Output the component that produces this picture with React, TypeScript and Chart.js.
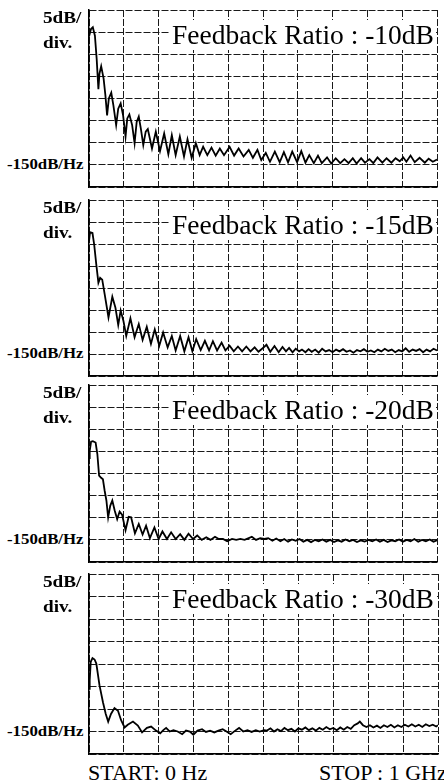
import React, { useEffect, useRef } from "react";
import { Chart, registerables } from "chart.js";

Chart.register(...registerables);

// ---------- data (frequency in MHz, level in dB) ----------
const X_MIN = 0;
const X_MAX = 1000;
const X_STEP = 100;
const Y_MIN = -155;
const Y_MAX = -115;
const Y_STEP = 5;

const titles = [
  "Feedback Ratio : -10dB",
  "Feedback Ratio : -15dB",
  "Feedback Ratio : -20dB",
  "Feedback Ratio : -30dB",
];
const scaleLabelTop = "5dB/";
const scaleLabelBottom = "div.";
const refLevelLabel = "-150dB/Hz";
const startLabel = "START: 0 Hz";
const stopLabel = "STOP : 1 GHz";

const freq1 = [
  0, 5.7, 11, 17, 22, 27, 30, 35, 42, 47, 52, 57, 64, 70, 78, 84, 91, 98, 105, 110,
  116, 124, 131, 137, 143, 149, 156, 163, 169, 181, 192, 204, 216, 228, 238, 249, 261, 273, 283, 295,
  307, 318, 328, 340, 352, 364, 376, 388, 404, 417, 430, 444, 459, 471, 484, 495, 508, 520, 534, 548,
  560, 572, 584, 598, 610, 622, 633, 646, 658, 669, 684, 696, 709, 722, 734, 746, 758, 769, 782, 793,
  806, 817, 829, 843, 855, 869, 881, 893, 903, 912, 924, 936, 950, 965, 976, 988, 1000,
];
const level1 = [
  -121.0, -119.3, -118.9, -120.8, -126.0, -132.9, -129.4, -127.7, -130.5, -134.2, -138.8, -135.0, -133.7, -136.5, -141.0, -137.3, -136.1, -138.8, -143.6, -139.5,
  -138.6, -141.0, -145.1, -140.3, -139.1, -141.8, -145.5, -142.5, -141.9, -146.3, -142.5, -146.9, -142.9, -147.6, -143.3, -147.8, -143.6, -148.1, -144.2, -148.4,
  -145.1, -147.8, -145.9, -147.8, -146.1, -147.9, -146.3, -147.8, -145.9, -147.9, -146.3, -148.1, -146.6, -148.4, -146.6, -148.9, -147.3, -149.3, -147.0, -149.4,
  -147.1, -149.4, -147.0, -149.4, -146.9, -149.5, -147.8, -149.6, -147.9, -149.6, -148.3, -149.7, -148.5, -149.6, -148.7, -149.6, -148.5, -149.7, -148.5, -149.5,
  -148.7, -149.6, -148.3, -149.5, -148.5, -149.5, -148.5, -149.2, -148.3, -149.3, -147.9, -149.4, -148.4, -149.5, -148.6, -149.3, -148.8,
];

const freq2 = [
  0, 3, 10, 15, 21, 27, 32, 38, 45, 56, 67, 76, 84, 91, 99, 107, 119, 131, 143, 154,
  166, 178, 189, 202, 213, 226, 238, 249, 262, 274, 286, 297, 308, 321, 333, 345, 356, 368, 381, 392,
  404, 416, 428, 440, 452, 464, 476, 487, 499, 510, 521, 533, 545, 556, 566, 575, 585, 594, 604, 612,
  622, 631, 640, 650, 660, 670, 680, 690, 700, 710, 720, 730, 740, 750, 760, 770, 780, 790, 800, 810,
  820, 830, 840, 850, 860, 870, 880, 890, 900, 910, 920, 930, 940, 950, 960, 970, 980, 990, 1000,
];
const level2 = [
  -124.4, -122.3, -122.5, -125.2, -129.7, -133.8, -132.7, -133.1, -136.4, -141.7, -137.0, -139.5, -143.4, -140.1, -142.5, -145.9, -141.9, -146.2, -143.2, -146.8,
  -143.8, -147.7, -144.4, -148.1, -145.1, -148.5, -145.9, -149.2, -145.9, -149.4, -146.2, -149.4, -146.6, -149.1, -147.0, -149.2, -147.1, -149.2, -147.4, -149.2,
  -148.1, -149.4, -148.3, -149.4, -148.3, -149.4, -148.5, -149.5, -148.7, -147.9, -149.5, -148.2, -149.6, -148.4, -149.4, -148.6, -149.6, -148.8, -149.4, -149.0,
  -149.6, -148.9, -149.5, -149.0, -149.7, -148.8, -149.4, -149.1, -149.6, -149.0, -149.4, -148.9, -149.5, -149.2, -149.7, -149.1, -149.4, -148.9, -149.5, -149.2,
  -149.6, -149.0, -149.4, -148.8, -149.3, -149.0, -149.6, -149.1, -149.4, -148.7, -149.5, -149.0, -149.3, -148.9, -149.6, -149.0, -149.4, -148.8, -149.2,
];

const freq3 = [
  0, 2, 6, 11, 19, 24, 29, 34, 40, 45, 50, 55, 61, 67, 74, 81, 88, 95, 105, 114,
  121, 132, 143, 154, 164, 175, 188, 200, 211, 224, 236, 249, 262, 274, 286, 299, 311, 324, 337, 349,
  362, 373, 385, 397, 411, 423, 435, 447, 459, 468, 480, 492, 504, 515, 527, 538, 550, 561, 572, 583,
  594, 605, 616, 627, 638, 649, 660, 671, 682, 693, 704, 715, 726, 737, 748, 759, 770, 781, 792, 803,
  814, 825, 836, 847, 858, 869, 880, 891, 902, 913, 924, 935, 946, 957, 968, 979, 990, 1000,
];
const level3 = [
  -131.5, -129.9, -127.8, -127.7, -128.0, -130.6, -135.5, -135.9, -136.3, -138.9, -141.1, -144.9, -142.3, -141.1, -143.4, -145.3, -143.6, -144.3, -147.8, -144.8,
  -144.9, -148.5, -146.4, -148.8, -146.8, -149.6, -147.2, -149.8, -148.1, -149.8, -148.3, -149.8, -148.7, -150.0, -148.6, -149.8, -149.0, -150.0, -149.4, -150.0,
  -149.3, -149.8, -149.8, -150.3, -149.8, -150.0, -149.8, -150.0, -149.6, -149.3, -150.0, -149.6, -149.8, -149.6, -150.2, -149.7, -150.3, -149.8, -150.4, -149.9,
  -150.2, -149.8, -150.4, -150.0, -150.5, -150.0, -150.3, -149.9, -150.4, -150.0, -150.5, -150.1, -150.4, -149.9, -150.3, -150.0, -150.5, -150.1, -150.4, -150.0,
  -150.3, -149.9, -150.4, -150.0, -150.5, -150.1, -150.3, -149.9, -150.4, -150.0, -150.3, -149.8, -150.4, -150.0, -150.3, -149.9, -150.4, -150.1,
];

const freq4 = [
  0, 2, 5, 10, 16, 21, 30, 40, 48, 55, 63, 73, 83, 92, 102, 111, 126, 140, 152, 166,
  178, 192, 204, 213, 221, 231, 242, 254, 267, 278, 289, 299, 311, 324, 335, 347, 359, 371, 383, 394,
  406, 419, 430, 442, 454, 466, 478, 489, 502, 510, 520, 530, 540, 550, 560, 570, 580, 590, 600, 610,
  620, 630, 640, 650, 660, 670, 680, 690, 700, 710, 720, 730, 740, 750, 760, 770, 776, 785, 795, 805,
  815, 825, 835, 845, 855, 865, 875, 885, 895, 905, 915, 925, 935, 945, 955, 965, 975, 985, 995, 1000,
];
const level4 = [
  -140.5, -138.6, -134.5, -133.7, -134.0, -134.9, -139.7, -143.5, -146.1, -147.8, -146.1, -144.8, -145.4, -147.5, -149.1, -148.5, -147.8, -148.7, -150.2, -149.2,
  -148.9, -149.8, -150.4, -149.7, -149.2, -150.0, -149.7, -150.0, -150.6, -149.8, -150.0, -150.7, -149.8, -149.5, -150.1, -149.8, -150.2, -149.8, -149.5, -150.0,
  -150.6, -149.8, -149.2, -150.0, -149.7, -150.1, -149.7, -150.0, -149.7, -149.8, -149.3, -150.0, -149.5, -149.9, -149.2, -149.7, -149.4, -150.0, -149.3, -149.6,
  -149.1, -149.7, -149.3, -149.8, -149.2, -149.6, -149.0, -149.5, -149.2, -149.7, -149.1, -149.6, -149.0, -149.4, -148.6, -148.2, -147.8, -148.6, -149.0, -148.6,
  -149.1, -148.7, -149.2, -148.6, -149.0, -148.5, -149.1, -148.6, -149.0, -148.5, -148.9, -148.4, -148.9, -148.5, -149.0, -148.4, -148.8, -148.5, -148.9, -148.6,
];

const panelFreqs = [freq1, freq2, freq3, freq4];
const panelLevels = [level1, level2, level3, level4];

// ---------- layout ----------
const PLOT_LEFT = 89;
const PANEL_TOPS = [10, 200, 385, 574];
const PANEL_HEIGHTS = [177, 176, 177, 180];
const PANEL_RIGHTS = [437, 437, 437, 438];
const PAD = 3;
const SERIF = '"Liberation Serif", "DejaVu Serif", serif';

function Panel({ index }: { index: number }) {
  const ref = useRef<HTMLCanvasElement>(null);
  const top = PANEL_TOPS[index];
  const height = PANEL_HEIGHTS[index];
  const right = PANEL_RIGHTS[index];
  const width = right - PLOT_LEFT;

  useEffect(() => {
    const f = panelFreqs[index];
    const l = panelLevels[index];
    const gridOpts = { color: "#1a1a1a", lineWidth: 1, drawTicks: false };
    const borderOpts = { display: true, color: "#000", width: 1.5, dash: [7, 2] };
    const chart = new Chart(ref.current as HTMLCanvasElement, {
      type: "line",
      data: {
        datasets: [
          {
            data: f.map((x, i) => ({ x, y: l[i] })),
            borderColor: "#000",
            borderWidth: 1.8,
            pointRadius: 0,
            tension: 0,
            fill: false,
          },
        ],
      },
      options: {
        responsive: false,
        animation: false,
        devicePixelRatio: 1,
        layout: { padding: PAD },
        plugins: { legend: { display: false }, tooltip: { enabled: false }, title: { display: false } },
        scales: {
          x: {
            type: "linear",
            min: X_MIN,
            max: X_MAX,
            ticks: { display: false, stepSize: X_STEP },
            grid: gridOpts,
            border: borderOpts,
          },
          y: {
            type: "linear",
            min: Y_MIN,
            max: Y_MAX,
            ticks: { display: false, stepSize: Y_STEP },
            grid: gridOpts,
            border: borderOpts,
          },
        },
      },
    } as any);
    return () => chart.destroy();
  }, [index]);

  const line150 = top + (height * 7) / 8;
  const boldLabel: React.CSSProperties = {
    position: "absolute",
    fontFamily: SERIF,
    fontWeight: "bold",
    whiteSpace: "nowrap",
    transformOrigin: "left center",
    transform: "scaleX(1.2)",
  };

  return (
    <>
      <canvas
        ref={ref}
        width={width + 2 * PAD}
        height={height + 2 * PAD}
        style={{ position: "absolute", left: PLOT_LEFT - PAD, top: top - PAD }}
      />
      <div
        style={{
          position: "absolute",
          left: 170,
          top: top + 10,
          width: right - 1 - 170,
          height: 30,
          background: "#fff",
          fontFamily: SERIF,
          fontSize: 27.5,
          lineHeight: "30px",
          whiteSpace: "nowrap",
          paddingLeft: 2,
          boxSizing: "border-box",
          overflow: "visible",
        }}
      >
        {titles[index]}
      </div>
      <div style={{ ...boldLabel, left: 43, top: top - 1.5, fontSize: 16, lineHeight: "18px" }}>{scaleLabelTop}</div>
      <div style={{ ...boldLabel, left: 43, top: top + 23.5, fontSize: 16, lineHeight: "18px" }}>{scaleLabelBottom}</div>
      <div style={{ ...boldLabel, left: 7, top: line150 - 8, fontSize: 14, lineHeight: "16px" }}>{refLevelLabel}</div>
    </>
  );
}

export default function App() {
  return (
    <div
      style={{
        position: "absolute",
        left: 0,
        top: 0,
        width: 444,
        height: 783,
        background: "#fff",
        overflow: "hidden",
        color: "#000",
        fontFamily: SERIF,
      }}
    >
      {[0, 1, 2, 3].map((i) => (
        <Panel key={i} index={i} />
      ))}
      <div style={{ position: "absolute", left: 88, top: 760, fontSize: 22, lineHeight: "26px", whiteSpace: "nowrap" }}>
        {startLabel}
      </div>
      <div style={{ position: "absolute", left: 319, top: 760, fontSize: 22, lineHeight: "26px", whiteSpace: "nowrap" }}>
        {stopLabel}
      </div>
    </div>
  );
}
